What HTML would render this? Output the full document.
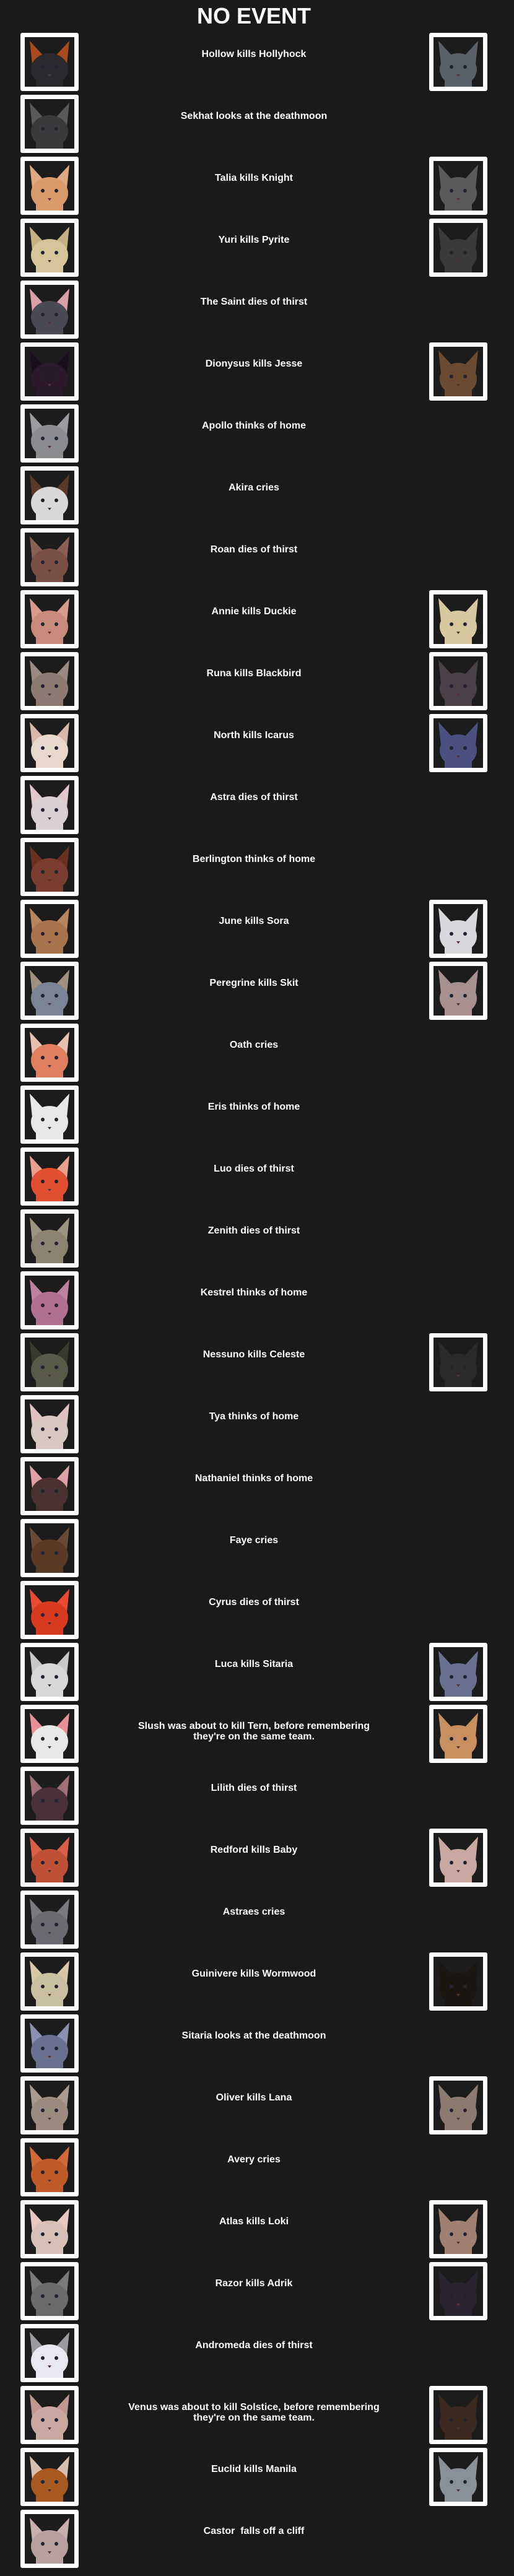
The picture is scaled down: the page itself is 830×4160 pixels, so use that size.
<!DOCTYPE html>
<html><head><meta charset="utf-8">
<style>
html,body{margin:0;padding:0;background:#1a1a1a;}
body{width:830px;height:4160px;position:relative;overflow:hidden;font-family:"Liberation Sans",sans-serif;color:#fff;}
#title{position:absolute;left:0;width:820px;top:4px;text-align:center;font-weight:bold;font-size:36px;line-height:44px;letter-spacing:0px;}
.card{position:absolute;width:80px;height:80px;border:7px solid #fff;border-radius:3px;background:#1c1c1c;overflow:hidden;}
.card svg{display:block;}
.txt{position:absolute;left:200px;width:420px;text-align:center;font-weight:bold;font-size:16px;line-height:17px;white-space:pre-wrap;}
</style></head><body>
<div id="title">NO EVENT</div>
<div id="list"></div>
<script>
const events = ["Hollow kills Hollyhock","Sekhat looks at the deathmoon","Talia kills Knight","Yuri kills Pyrite","The Saint dies of thirst","Dionysus kills Jesse","Apollo thinks of home","Akira cries","Roan dies of thirst","Annie kills Duckie","Runa kills Blackbird","North kills Icarus","Astra dies of thirst","Berlington thinks of home","June kills Sora","Peregrine kills Skit","Oath cries","Eris thinks of home","Luo dies of thirst","Zenith dies of thirst","Kestrel thinks of home","Nessuno kills Celeste","Tya thinks of home","Nathaniel thinks of home","Faye cries","Cyrus dies of thirst","Luca kills Sitaria","Slush was about to kill Tern, before remembering they're on the same team.","Lilith dies of thirst","Redford kills Baby","Astraes cries","Guinivere kills Wormwood","Sitaria looks at the deathmoon","Oliver kills Lana","Avery cries","Atlas kills Loki","Razor kills Adrik","Andromeda dies of thirst","Venus was about to kill Solstice, before remembering they're on the same team.","Euclid kills Manila","Castor  falls off a cliff"];
const leftColors = ["#2a2a2e","#3a3a3c","#d99a6c","#d8c49a","#4a4a54","#2a1a2c","#8a8c90","#d8d8d8","#7a5046","#c88a7a","#8a7a72","#e8d8cc","#d8d0d4","#7a3e30","#a8744e","#7a8494","#e08060","#e8e8e8","#e05030","#8a8470","#b07090","#5a5a4a","#d8c8c4","#4a3030","#5a3a24","#d83a20","#d8d8d8","#e8e8e8","#4a3038","#c05038","#6a6a70","#c8c0a0","#6a7090","#9a8a80","#c05a28","#d8c0b8","#6a6a6a","#e8e8f0","#c8a8a0","#a85a20","#b8a0a0"];
const leftEars = ["#a84a1c","#5a5a5c","#e0a880","#c8b080","#d9a0a8","#1a0f1c","#9a9ca0","#5a3a28","#8a6056","#d89a8a","#9a8a82","#d8b8a8","#e0c8cc","#6a3020","#b8845e","#a09080","#e8c0b0","#e8e8e8","#e8a090","#9a9480","#c080a0","#3a3a30","#e0c0c0","#e0a0a8","#6a4a34","#e84a30","#c8c8c8","#e89098","#a07078","#d86048","#7a7a80","#d8c8a8","#8a90b0","#a89a90","#d06a38","#e8c8c0","#7a7a7a","#9a9aa0","#c09890","#d8c0b0","#c8b0b0"];
const rightRows = [0,2,3,5,9,10,11,14,15,21,26,27,29,31,33,35,36,38,39];
const rightColors = ["#5a6068","#5a5a5a","#3a3a3a","#6a4a30","#d8c8a0","#4a4048","#4a5080","#d8d8dc","#a89090","#2a2a2a","#6a7090","#c89060","#c8a8a0","#1a1612","#8a7a70","#a08070","#2a2430","#3a2a20","#8a9098"];

const list = document.getElementById('list');
function face(color, ear){
  return '<svg width="80" height="80" viewBox="0 0 80 80">'+
    '<polygon points="8,6 30,30 12,44" fill="'+ear+'"/>'+
    '<polygon points="72,6 50,30 68,44" fill="'+ear+'"/>'+
    '<ellipse cx="40" cy="52" rx="30" ry="26" fill="'+color+'"/>'+
    '<rect x="18" y="62" width="44" height="18" fill="'+color+'"/>'+
    '<circle cx="29" cy="48" r="3" fill="#223"/><circle cx="51" cy="48" r="3" fill="#223"/>'+
    '<polygon points="37,60 43,60 40,64" fill="#533"/></svg>';
}
events.forEach((t,i)=>{
  const top = 53 + i*100;
  const c = document.createElement('div');
  c.className='card';
  c.style.left='33px'; c.style.top=top+'px';
  
  
  c.innerHTML = face(leftColors[i], leftEars[i]);
  list.appendChild(c);
  const d = document.createElement('div');
  d.className='txt';
  d.style.top=(top+26)+'px';
  d.textContent=t;
  
  
  list.appendChild(d);
});
rightRows.forEach((r,j)=>{
  const top = 53 + r*100;
  const c = document.createElement('div');
  c.className='card';
  c.style.left='693px'; c.style.top=top+'px';
  
  
  c.innerHTML = face(rightColors[j], rightColors[j]);
  list.appendChild(c);
});
</script>
</body></html>
